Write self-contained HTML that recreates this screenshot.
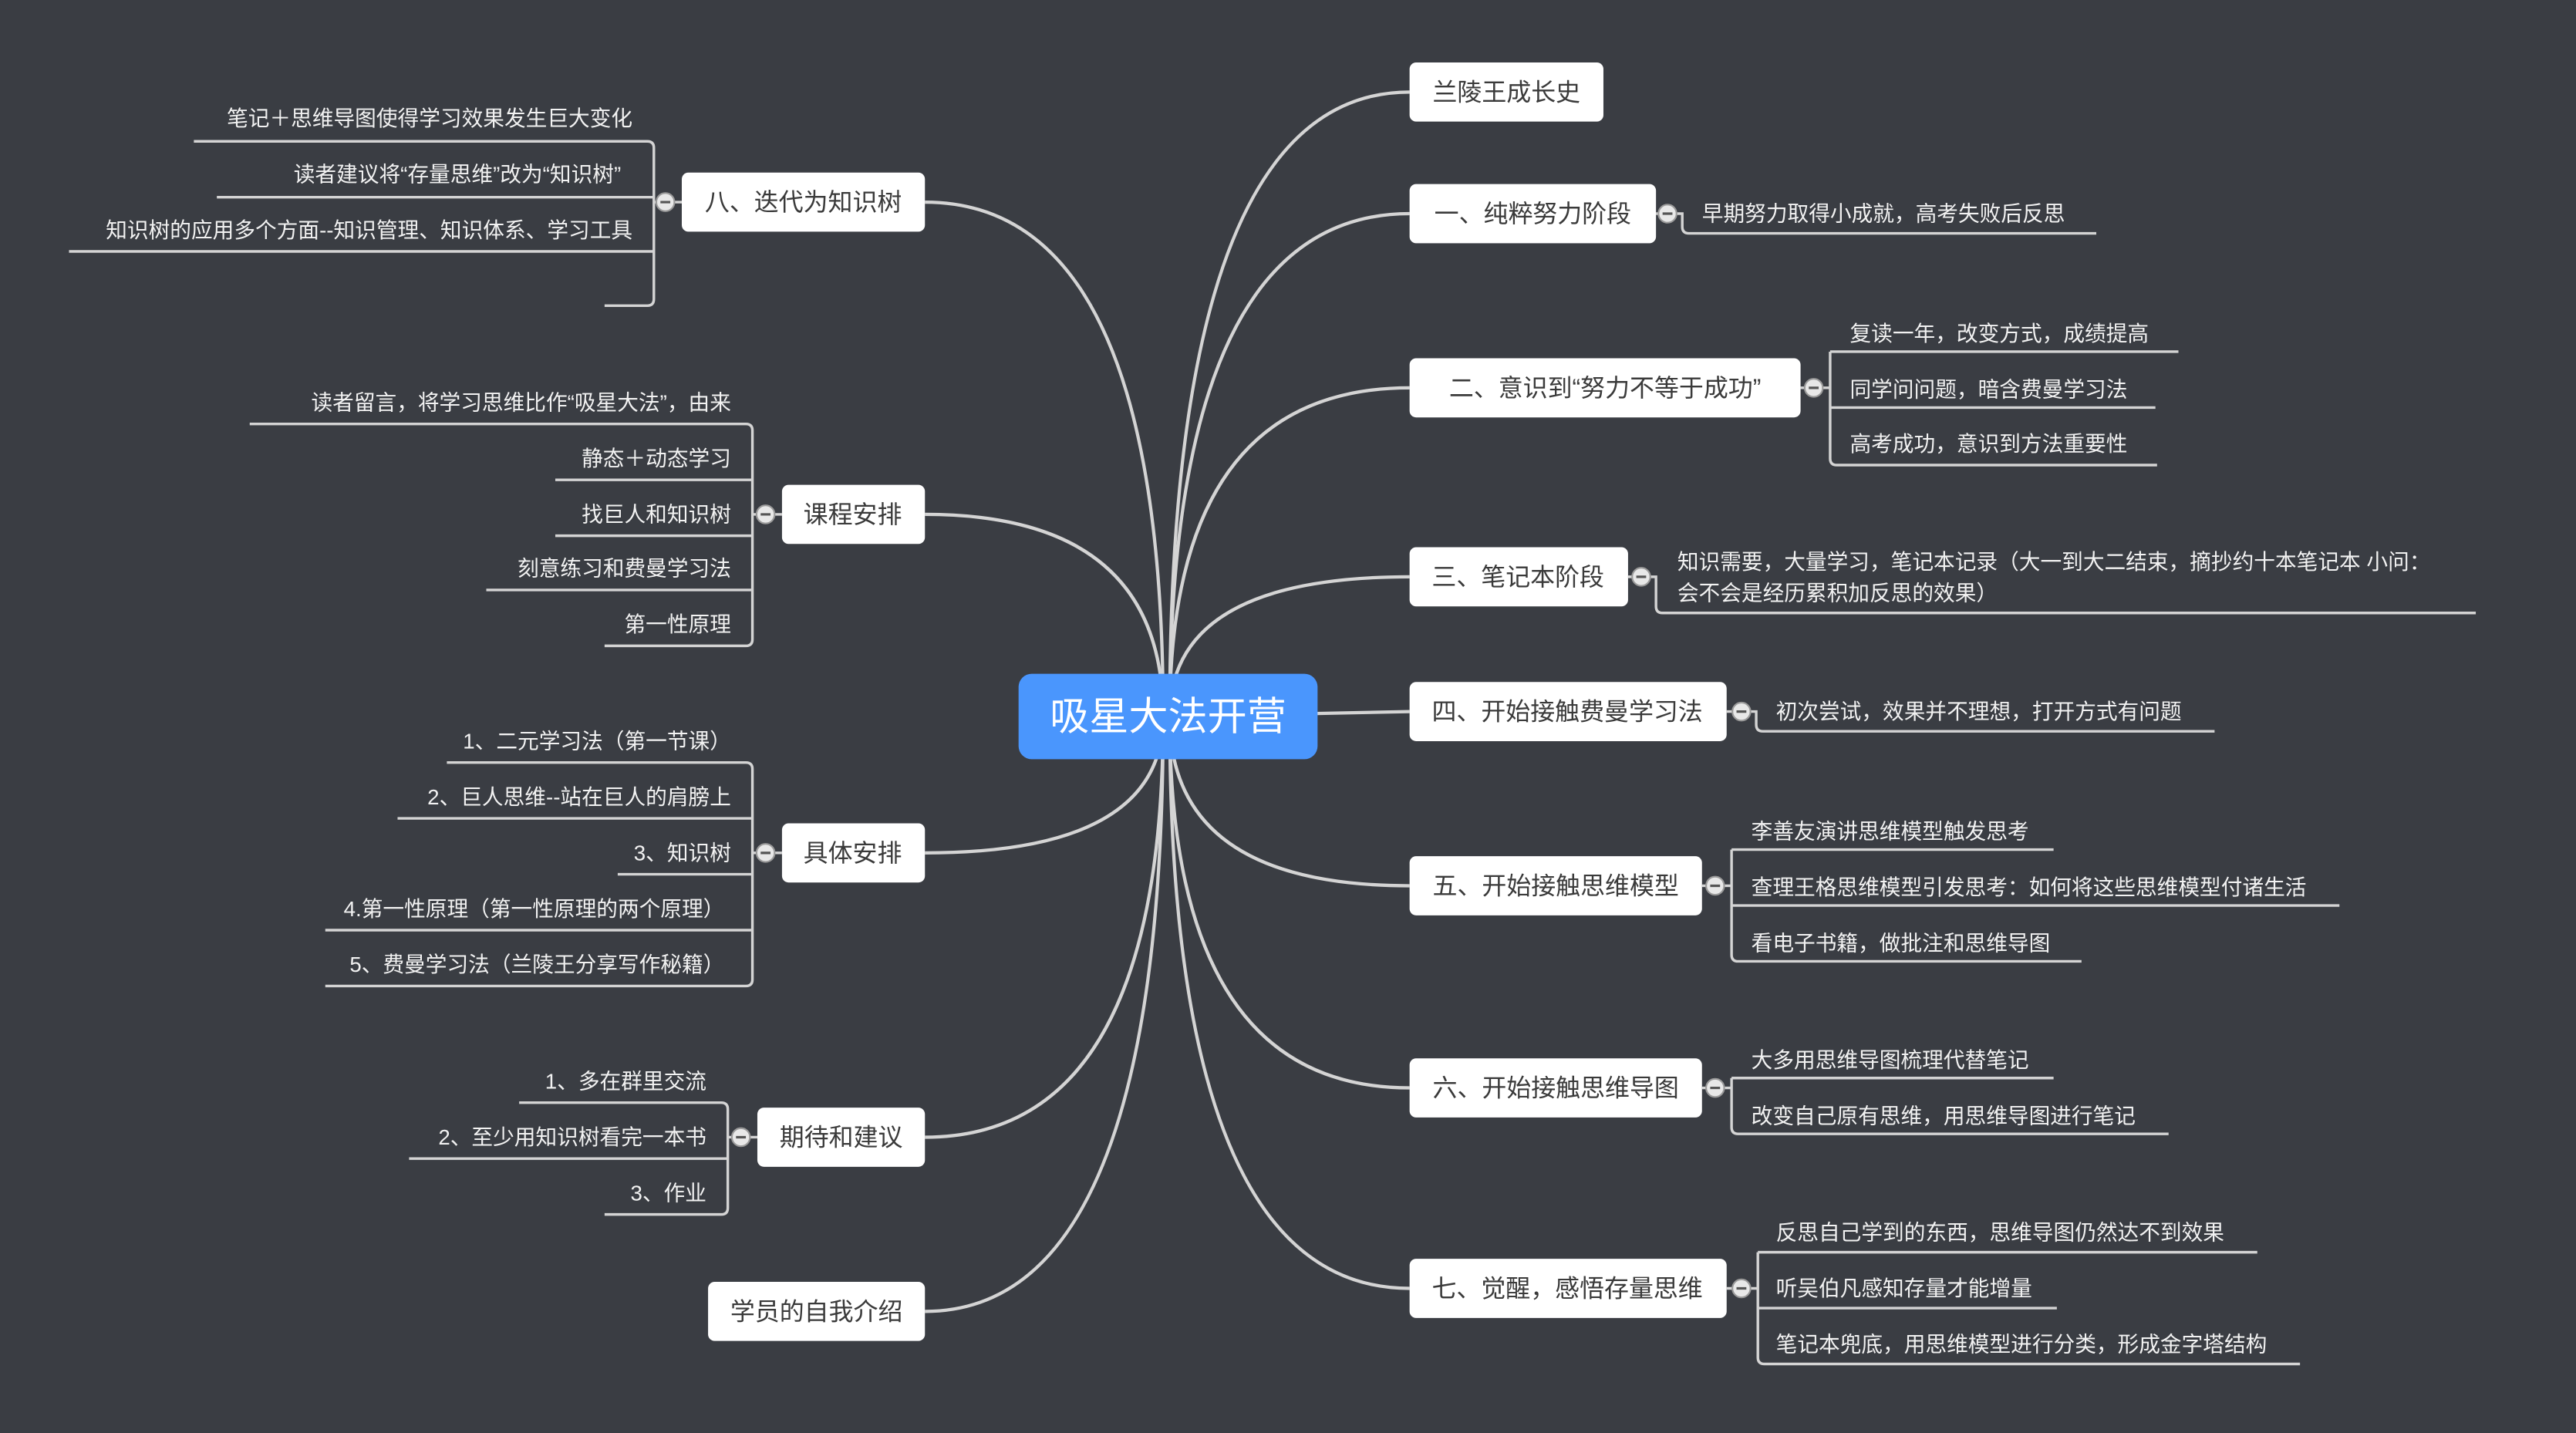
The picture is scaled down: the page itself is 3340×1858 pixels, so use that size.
<!DOCTYPE html>
<html><head><meta charset="utf-8"><style>
html,body{margin:0;padding:0;background:#3a3d43;}
svg{display:block;}
text{font-family:"Liberation Sans","Noto Sans CJK SC",sans-serif;}
.n{font-size:15px;fill:#3a3a3a;text-anchor:middle;dominant-baseline:central;}
.c{font-size:13px;fill:#f2f2f2;dominant-baseline:central;}
.r{text-anchor:end;}
.ln{stroke:#d4d4d4;stroke-width:2;fill:none;}
.ul{stroke:#d4d4d4;stroke-width:1.6;fill:none;}
</style></head><body>
<svg width="3340" height="1858" viewBox="0 0 1568 872" preserveAspectRatio="none" xmlns="http://www.w3.org/2000/svg">
<rect width="1568" height="872" fill="#3a3d43"/>
<g class="ln">
<path d="M712,436 Q712,56 858,56"/>
<path d="M712,436 Q712,130 858,130"/>
<path d="M712,436 Q712,236 858,236"/>
<path d="M712,436 Q712,351 858,351"/>
<path d="M712,436 L858,433"/>
<path d="M712,436 Q712,539 858,539"/>
<path d="M712,436 Q712,662 858,662"/>
<path d="M712,436 Q712,784 858,784"/>
<path d="M708,436 Q708,123 563,123"/>
<path d="M708,436 Q708,313 563,313"/>
<path d="M708,436 Q708,519 563,519"/>
<path d="M708,436 Q708,692 563,692"/>
<path d="M708,436 Q708,798 563,798"/>
</g>
<!-- center -->
<rect x="620" y="410" width="182" height="52" rx="8" fill="#4a96fd"/>
<text x="711" y="436" font-size="24" fill="#fff" text-anchor="middle" dominant-baseline="central">吸星大法开营</text>

<!-- right nodes -->
<g fill="#fff">
<rect x="858" y="38" width="118" height="36" rx="4"/>
<rect x="858" y="112" width="150" height="36" rx="4"/>
<rect x="858" y="218" width="238" height="36" rx="4"/>
<rect x="858" y="333" width="133" height="36" rx="4"/>
<rect x="858" y="415" width="193" height="36" rx="4"/>
<rect x="858" y="521" width="178" height="36" rx="4"/>
<rect x="858" y="644" width="178" height="36" rx="4"/>
<rect x="858" y="766" width="193" height="36" rx="4"/>
<rect x="415" y="105" width="148" height="36" rx="4"/>
<rect x="476" y="295" width="87" height="36" rx="4"/>
<rect x="476" y="501" width="87" height="36" rx="4"/>
<rect x="461" y="674" width="102" height="36" rx="4"/>
<rect x="431" y="780" width="132" height="36" rx="4"/>
</g>
<text class="n" x="917" y="56">兰陵王成长史</text>
<text class="n" x="933" y="130">一、纯粹努力阶段</text>
<text class="n" x="977" y="236">二、意识到“努力不等于成功”</text>
<text class="n" x="924" y="351">三、笔记本阶段</text>
<text class="n" x="954" y="433">四、开始接触费曼学习法</text>
<text class="n" x="947" y="539">五、开始接触思维模型</text>
<text class="n" x="947" y="662">六、开始接触思维导图</text>
<text class="n" x="954" y="784">七、觉醒，感悟存量思维</text>
<text class="n" x="489" y="123">八、迭代为知识树</text>
<text class="n" x="519" y="313">课程安排</text>
<text class="n" x="519" y="519">具体安排</text>
<text class="n" x="512" y="692">期待和建议</text>
<text class="n" x="497" y="798">学员的自我介绍</text>

<!-- right brackets -->
<g class="ul">
<path d="M1008,130 H1024 V138 Q1024,142 1028,142 H1276"/>
<path d="M1096,236 H1114 M1114,214 V279 Q1114,283 1118,283 H1313 M1114,214 H1326 M1114,248 H1312"/>
<path d="M991,351 H1008 V369 Q1008,373 1012,373 H1507"/>
<path d="M1051,433 H1069 V441 Q1069,445 1073,445 H1348"/>
<path d="M1036,539 H1054 M1054,517 V581 Q1054,585 1058,585 H1267 M1054,517 H1250 M1054,551 H1424"/>
<path d="M1036,662 H1054 M1054,656 V686 Q1054,690 1058,690 H1320 M1054,656 H1250"/>
<path d="M1051,784 H1070 M1070,762 V826 Q1070,830 1074,830 H1400 M1070,762 H1374 M1070,796 H1252"/>
<!-- left brackets -->
<path d="M415,123 H398 M398,90 Q398,86 394,86 H118 M398,90 V182 Q398,186 394,186 H368 M398,120 H132 M398,153 H42"/>
<path d="M476,313 H458 M458,262 Q458,258 454,258 H152 M458,262 V389 Q458,393 454,393 H368 M458,292 H338 M458,326 H338 M458,359 H296"/>
<path d="M476,519 H458 M458,468 Q458,464 454,464 H272 M458,468 V596 Q458,600 454,600 H198 M458,498 H242 M458,532 H376 M458,566 H198"/>
<path d="M461,692 H443 M443,675 Q443,671 439,671 H316 M443,675 V735 Q443,739 439,739 H368 M443,705 H249"/>
</g>
<!-- collapse circles -->
<g fill="#e8e8e8" stroke="#9a9a9a" stroke-width="1">
<circle cx="1015" cy="130" r="5.5"/><circle cx="1104" cy="236" r="5.5"/><circle cx="999" cy="351" r="5.5"/>
<circle cx="1060" cy="433" r="5.5"/><circle cx="1044" cy="539" r="5.5"/><circle cx="1044" cy="662" r="5.5"/>
<circle cx="1060" cy="784" r="5.5"/><circle cx="405" cy="123" r="5.5"/><circle cx="466" cy="313" r="5.5"/>
<circle cx="466" cy="519" r="5.5"/><circle cx="451" cy="692" r="5.5"/>
</g>
<g stroke="#555" stroke-width="1.5">
<path d="M1012,130h6M1101,236h6M996,351h6M1057,433h6M1041,539h6M1041,662h6M1057,784h6M402,123h6M463,313h6M463,519h6M448,692h6"/>
</g>

<!-- right children -->
<text class="c" x="1036" y="130">早期努力取得小成就，高考失败后反思</text>
<text class="c" x="1126" y="203">复读一年，改变方式，成绩提高</text>
<text class="c" x="1126" y="237">同学问问题，暗含费曼学习法</text>
<text class="c" x="1126" y="270">高考成功，意识到方法重要性</text>
<text class="c" x="1021" y="342">知识需要，大量学习，笔记本记录（大一到大二结束，摘抄约十本笔记本 小问：</text>
<text class="c" x="1021" y="361">会不会是经历累积加反思的效果）</text>
<text class="c" x="1081" y="433">初次尝试，效果并不理想，打开方式有问题</text>
<text class="c" x="1066" y="506">李善友演讲思维模型触发思考</text>
<text class="c" x="1066" y="540">查理王格思维模型引发思考：如何将这些思维模型付诸生活</text>
<text class="c" x="1066" y="574">看电子书籍，做批注和思维导图</text>
<text class="c" x="1066" y="645">大多用思维导图梳理代替笔记</text>
<text class="c" x="1066" y="679">改变自己原有思维，用思维导图进行笔记</text>
<text class="c" x="1081" y="750">反思自己学到的东西，思维导图仍然达不到效果</text>
<text class="c" x="1081" y="784">听吴伯凡感知存量才能增量</text>
<text class="c" x="1081" y="818">笔记本兜底，用思维模型进行分类，形成金字塔结构</text>

<!-- left children -->
<text class="c r" x="385" y="72">笔记＋思维导图使得学习效果发生巨大变化</text>
<text class="c r" x="378" y="106">读者建议将“存量思维”改为“知识树”</text>
<text class="c r" x="385" y="140">知识树的应用多个方面--知识管理、知识体系、学习工具</text>
<text class="c r" x="445" y="245">读者留言，将学习思维比作“吸星大法”，由来</text>
<text class="c r" x="445" y="279">静态＋动态学习</text>
<text class="c r" x="445" y="313">找巨人和知识树</text>
<text class="c r" x="445" y="346">刻意练习和费曼学习法</text>
<text class="c r" x="445" y="380">第一性原理</text>
<text class="c r" x="445" y="451">1、二元学习法（第一节课）</text>
<text class="c r" x="445" y="485">2、巨人思维--站在巨人的肩膀上</text>
<text class="c r" x="445" y="519">3、知识树</text>
<text class="c r" x="441" y="553">4.第一性原理（第一性原理的两个原理）</text>
<text class="c r" x="441" y="587">5、费曼学习法（兰陵王分享写作秘籍）</text>
<text class="c r" x="430" y="658">1、多在群里交流</text>
<text class="c r" x="430" y="692">2、至少用知识树看完一本书</text>
<text class="c r" x="430" y="726">3、作业</text>
</svg>
</body></html>
